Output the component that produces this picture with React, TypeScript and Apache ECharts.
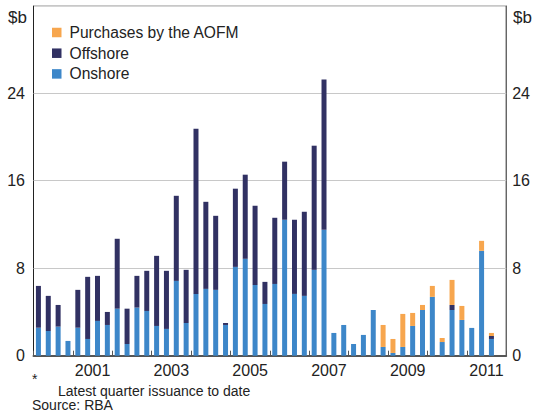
import React, { useEffect, useRef } from "react";
import * as echarts from "echarts";

const years = ["2000","2001","2002","2003","2004","2005","2006","2007","2008","2009","2010","2011"];
const quarters: string[] = years.flatMap((y) => ["Q1","Q2","Q3","Q4"].map((q) => `${y} ${q}`));

// 2000 Q1 .. 2011 Q3 ($b)
const onshore = [
  2.56, 2.26, 2.66, 1.35,
  2.56, 1.53, 3.18, 2.81,
  4.30, 1.07, 4.40, 4.09,
  2.72, 2.45, 6.84, 2.99,
  5.65, 6.11, 6.02, 2.81,
  8.12, 8.86, 6.47, 4.73,
  6.56, 12.43, 5.65, 5.47,
  7.85, 11.51, 2.08, 2.81,
  1.07, 1.9, 4.18, 0.8,
  0.25, 0.8, 2.72, 4.18,
  5.38, 1.25, 4.18, 3.27,
  2.54, 9.59, 1.53,
];
const offshore = [
  3.82, 3.21, 1.98, 0,
  3.46, 5.68, 4.12, 1.19,
  6.39, 3.23, 2.90, 3.67,
  6.41, 5.31, 7.78, 4.86,
  15.11, 7.96, 6.77, 0.18,
  7.15, 7.69, 7.24, 2.02,
  6.05, 5.31, 6.78, 7.69,
  11.35, 13.74, 0, 0,
  0, 0, 0, 0,
  0, 0, 0, 0,
  0, 0, 0.46, 0,
  0, 0, 0.27,
];
const purchases = [
  0, 0, 0, 0,
  0, 0, 0, 0,
  0, 0, 0, 0,
  0, 0, 0, 0,
  0, 0, 0, 0,
  0, 0, 0, 0,
  0, 0, 0, 0,
  0, 0, 0, 0,
  0, 0, 0, 2.01,
  1.28, 3.02, 1.19, 0.46,
  1.0, 0.37, 2.29, 1.28,
  0, 0.91, 0.28,
];
const yTicks = [0, 8, 16, 24, 32];

const FONT = "'Liberation Sans', Arial, Helvetica, sans-serif";
const TXT = "#222";

export default function App() {
  const ref = useRef<HTMLDivElement>(null);
  useEffect(() => {
    if (!ref.current) return;
    const chart = echarts.init(ref.current, undefined, { renderer: "svg" });
    const yMax = yTicks[yTicks.length - 1];
    const yInterval = yTicks[1] - yTicks[0];
    const yAxisBase = {
      type: "value" as const,
      min: yTicks[0],
      max: yMax,
      interval: yInterval,
      axisLine: { show: false },
      axisTick: { show: false },
      axisLabel: {
        fontSize: 16,
        color: TXT,
        fontFamily: FONT,
        formatter: (v: number) => (v === yMax ? "" : String(v)),
      },
    };
    chart.setOption({
      animation: false,
      textStyle: { fontFamily: FONT },
      grid: {
        left: 33.5,
        right: 26.3,
        top: 5.7,
        bottom: 58.3,
        show: true,
        borderColor: "#222",
        borderWidth: 1,
        containLabel: false,
      },
      legend: {
        orient: "vertical",
        left: 47,
        top: 19.5,
        icon: "rect",
        itemWidth: 9.5,
        itemHeight: 9.5,
        itemGap: 4.7,
        data: ["Purchases by the AOFM", "Offshore", "Onshore"],
        textStyle: { fontSize: 15.6, color: TXT, fontFamily: FONT, lineHeight: 16, padding: [0, 0, 0, 3] },
      },
      xAxis: [
        {
          type: "category",
          data: quarters,
          axisLine: { show: true, lineStyle: { color: "#555", width: 2 } },
          axisTick: { show: false },
          axisLabel: { show: false },
          splitLine: { show: false },
        },
        {
          type: "category",
          data: years,
          position: "bottom",
          axisLine: { show: false },
          axisTick: { show: true, inside: true, length: 5, interval: 0, lineStyle: { color: "#555", width: 1 } },
          axisLabel: {
            fontSize: 16,
            color: TXT,
            fontFamily: FONT,
            margin: 7,
            interval: (i: number) => i % 2 === 1,
          },
          splitLine: { show: false },
        },
      ],
      yAxis: [
        {
          ...yAxisBase,
          position: "left",
          axisLabel: { ...yAxisBase.axisLabel, margin: 8.5 },
          splitLine: { show: true, lineStyle: { color: "#c8c8c8", width: 1 } },
        },
        {
          ...yAxisBase,
          position: "right",
          axisLabel: { ...yAxisBase.axisLabel, margin: 6 },
          splitLine: { show: false },
        },
      ],
      series: [
        {
          name: "Onshore",
          type: "bar",
          stack: "total",
          xAxisIndex: 0,
          barWidth: 5,
          itemStyle: { color: "#3d87c9" },
          data: onshore,
        },
        {
          name: "Offshore",
          type: "bar",
          stack: "total",
          xAxisIndex: 0,
          barWidth: 5,
          itemStyle: { color: "#313163" },
          data: offshore,
        },
        {
          name: "Purchases by the AOFM",
          type: "bar",
          stack: "total",
          xAxisIndex: 0,
          barWidth: 5,
          itemStyle: { color: "#f7a64e" },
          data: purchases,
        },
      ],
      graphic: [
        { type: "text", left: 8, top: 9, style: { text: "$b", fontSize: 17, fill: TXT, fontFamily: FONT } },
        { type: "text", left: 513, top: 9, style: { text: "$b", fontSize: 17, fill: TXT, fontFamily: FONT } },
        { type: "text", left: 32, top: 372, style: { text: "*", fontSize: 14, fill: TXT, fontFamily: FONT } },
        { type: "text", left: 58, top: 383.5, style: { text: "Latest quarter issuance to date", fontSize: 14, fill: TXT, fontFamily: FONT } },
        { type: "text", left: 32, top: 397.5, style: { text: "Source: RBA", fontSize: 14, fill: TXT, fontFamily: FONT } },
      ],
    });
    return () => chart.dispose();
  }, []);
  return (
    <div
      ref={ref}
      style={{ position: "fixed", left: 0, top: 0, width: 533, height: 414, background: "#fff" }}
    />
  );
}
